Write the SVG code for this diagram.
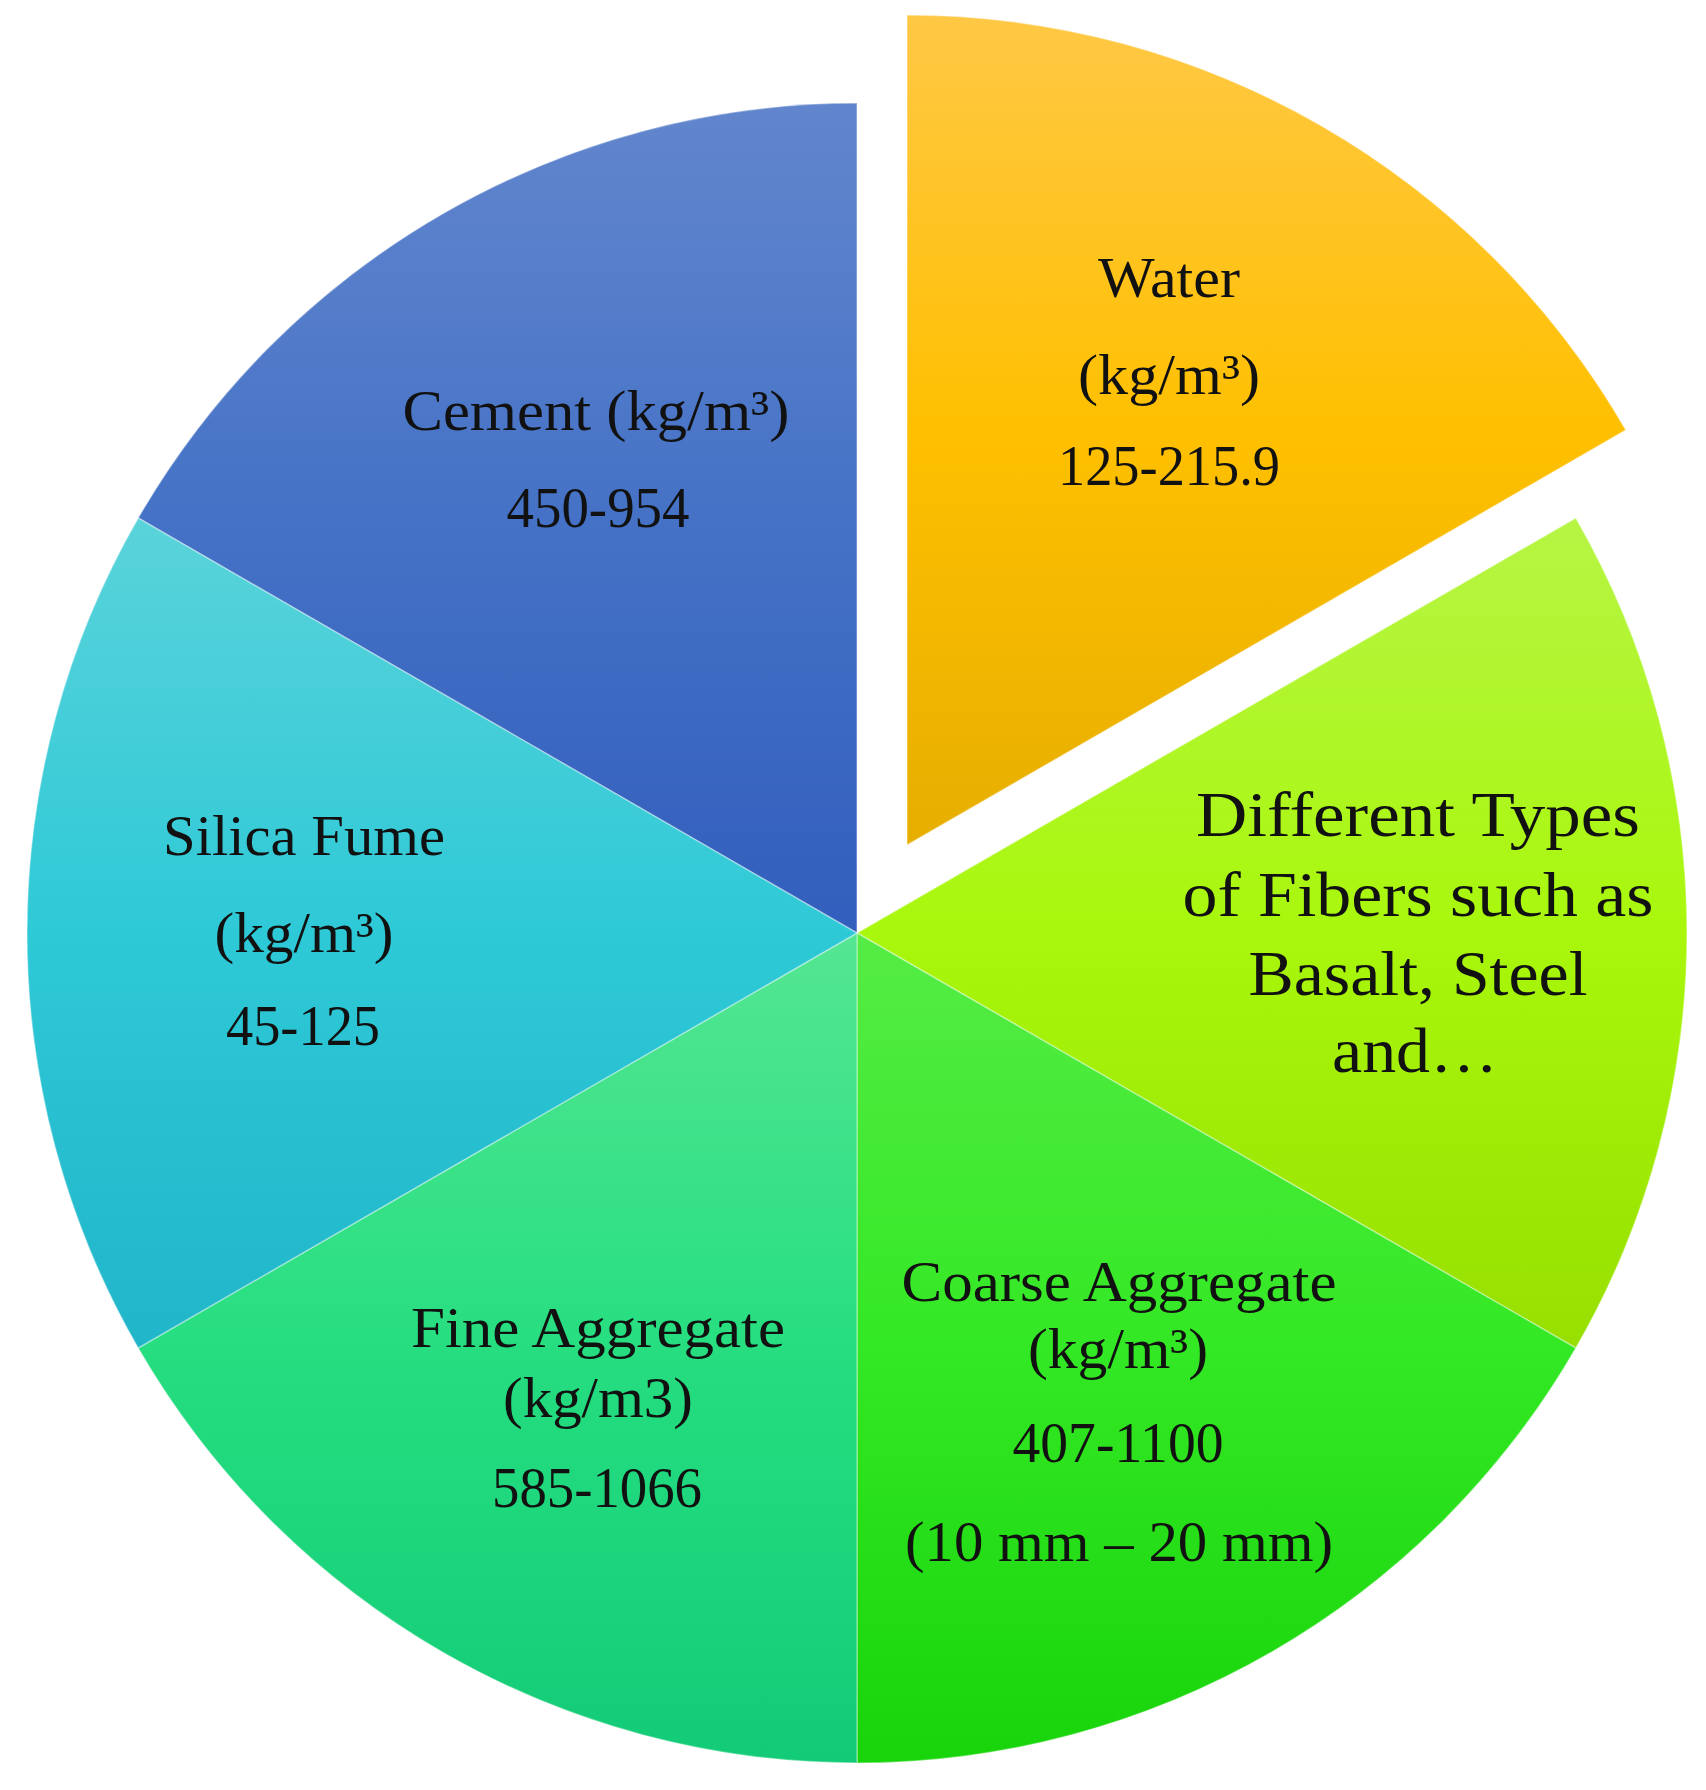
<svg xmlns="http://www.w3.org/2000/svg" width="1706" height="1790" viewBox="0 0 1706 1790">
<style>
.s{stroke:#ffffff;stroke-opacity:0.35;stroke-width:1.5}
.t{font-family:"Liberation Serif","DejaVu Serif",serif;font-size:58px;fill:#111;text-anchor:middle}
.b{font-size:64px}
</style>
<defs>
<linearGradient id="gCem" x1="0" y1="0" x2="0" y2="1"><stop offset="0" stop-color="#6286CD"/><stop offset="0.5" stop-color="#4572C6"/><stop offset="1" stop-color="#325EBD"/></linearGradient>
<linearGradient id="gWat" x1="0" y1="0" x2="0" y2="1"><stop offset="0" stop-color="#FFC845"/><stop offset="0.5" stop-color="#FFC000"/><stop offset="1" stop-color="#E6AE00"/></linearGradient>
<linearGradient id="gFib" x1="0" y1="0" x2="0" y2="1"><stop offset="0" stop-color="#B6F544"/><stop offset="0.5" stop-color="#A9F70C"/><stop offset="1" stop-color="#97DF00"/></linearGradient>
<linearGradient id="gCoa" x1="0" y1="0" x2="0" y2="1"><stop offset="0" stop-color="#55EC45"/><stop offset="0.5" stop-color="#33E824"/><stop offset="1" stop-color="#18D40A"/></linearGradient>
<linearGradient id="gFin" x1="0" y1="0" x2="0" y2="1"><stop offset="0" stop-color="#55E692"/><stop offset="0.5" stop-color="#26DE80"/><stop offset="1" stop-color="#13CB77"/></linearGradient>
<linearGradient id="gSil" x1="0" y1="0" x2="0" y2="1"><stop offset="0" stop-color="#5AD3DA"/><stop offset="0.5" stop-color="#2EC9D7"/><stop offset="1" stop-color="#21B5CA"/></linearGradient>
</defs>
<rect width="1706" height="1790" fill="#ffffff"/>
<g id="connectors"></g>
<g id="cement">
<path class="s" fill="url(#gCem)" d="M857,933 L138.2,518 A830,830 0 0 1 857,103 Z"/>
<text class="t" x="596" y="430" textLength="387" lengthAdjust="spacingAndGlyphs">Cement (kg/m³)</text>
<text class="t" x="598" y="527" textLength="183" lengthAdjust="spacingAndGlyphs">450-954</text>
</g>
<g id="water">
<path class="s" fill="url(#gWat)" d="M907,845 L907,15 A830,830 0 0 1 1625.8,430 Z"/>
<text class="t" x="1169" y="297" textLength="142" lengthAdjust="spacingAndGlyphs">Water</text>
<text class="t" x="1169" y="394" textLength="182" lengthAdjust="spacingAndGlyphs">(kg/m³)</text>
<text class="t" x="1169" y="485" textLength="222" lengthAdjust="spacingAndGlyphs">125-215.9</text>
</g>
<g id="fibers">
<path class="s" fill="url(#gFib)" d="M857,933 L1575.8,518 A830,830 0 0 1 1575.8,1348 Z"/>
<text class="t b" x="1418" y="836" textLength="444" lengthAdjust="spacingAndGlyphs">Different Types</text>
<text class="t b" x="1418" y="916" textLength="471" lengthAdjust="spacingAndGlyphs">of Fibers such as</text>
<text class="t b" x="1418" y="995" textLength="339" lengthAdjust="spacingAndGlyphs">Basalt, Steel</text>
<text class="t b" x="1415" y="1072" textLength="166" lengthAdjust="spacingAndGlyphs">and…</text>
</g>
<g id="coarse">
<path class="s" fill="url(#gCoa)" d="M857,933 L1575.8,1348 A830,830 0 0 1 857,1763 Z"/>
<text class="t" x="1119" y="1301" textLength="435" lengthAdjust="spacingAndGlyphs">Coarse Aggregate</text>
<text class="t" x="1118" y="1368" textLength="180" lengthAdjust="spacingAndGlyphs">(kg/m³)</text>
<text class="t" x="1118" y="1462" textLength="211" lengthAdjust="spacingAndGlyphs">407-1100</text>
<text class="t" x="1119" y="1561" textLength="428" lengthAdjust="spacingAndGlyphs">(10 mm – 20 mm)</text>
</g>
<g id="fine">
<path class="s" fill="url(#gFin)" d="M857,933 L857,1763 A830,830 0 0 1 138.2,1348 Z"/>
<text class="t" x="598" y="1347" textLength="374" lengthAdjust="spacingAndGlyphs">Fine Aggregate</text>
<text class="t" x="598" y="1417" textLength="190" lengthAdjust="spacingAndGlyphs">(kg/m3)</text>
<text class="t" x="597" y="1507" textLength="210" lengthAdjust="spacingAndGlyphs">585-1066</text>
</g>
<g id="silica">
<path class="s" fill="url(#gSil)" d="M857,933 L138.2,1348 A830,830 0 0 1 138.2,518 Z"/>
<text class="t" x="304" y="855" textLength="282" lengthAdjust="spacingAndGlyphs">Silica Fume</text>
<text class="t" x="304" y="952" textLength="179" lengthAdjust="spacingAndGlyphs">(kg/m³)</text>
<text class="t" x="303" y="1045" textLength="154" lengthAdjust="spacingAndGlyphs">45-125</text>
</g>
</svg>
